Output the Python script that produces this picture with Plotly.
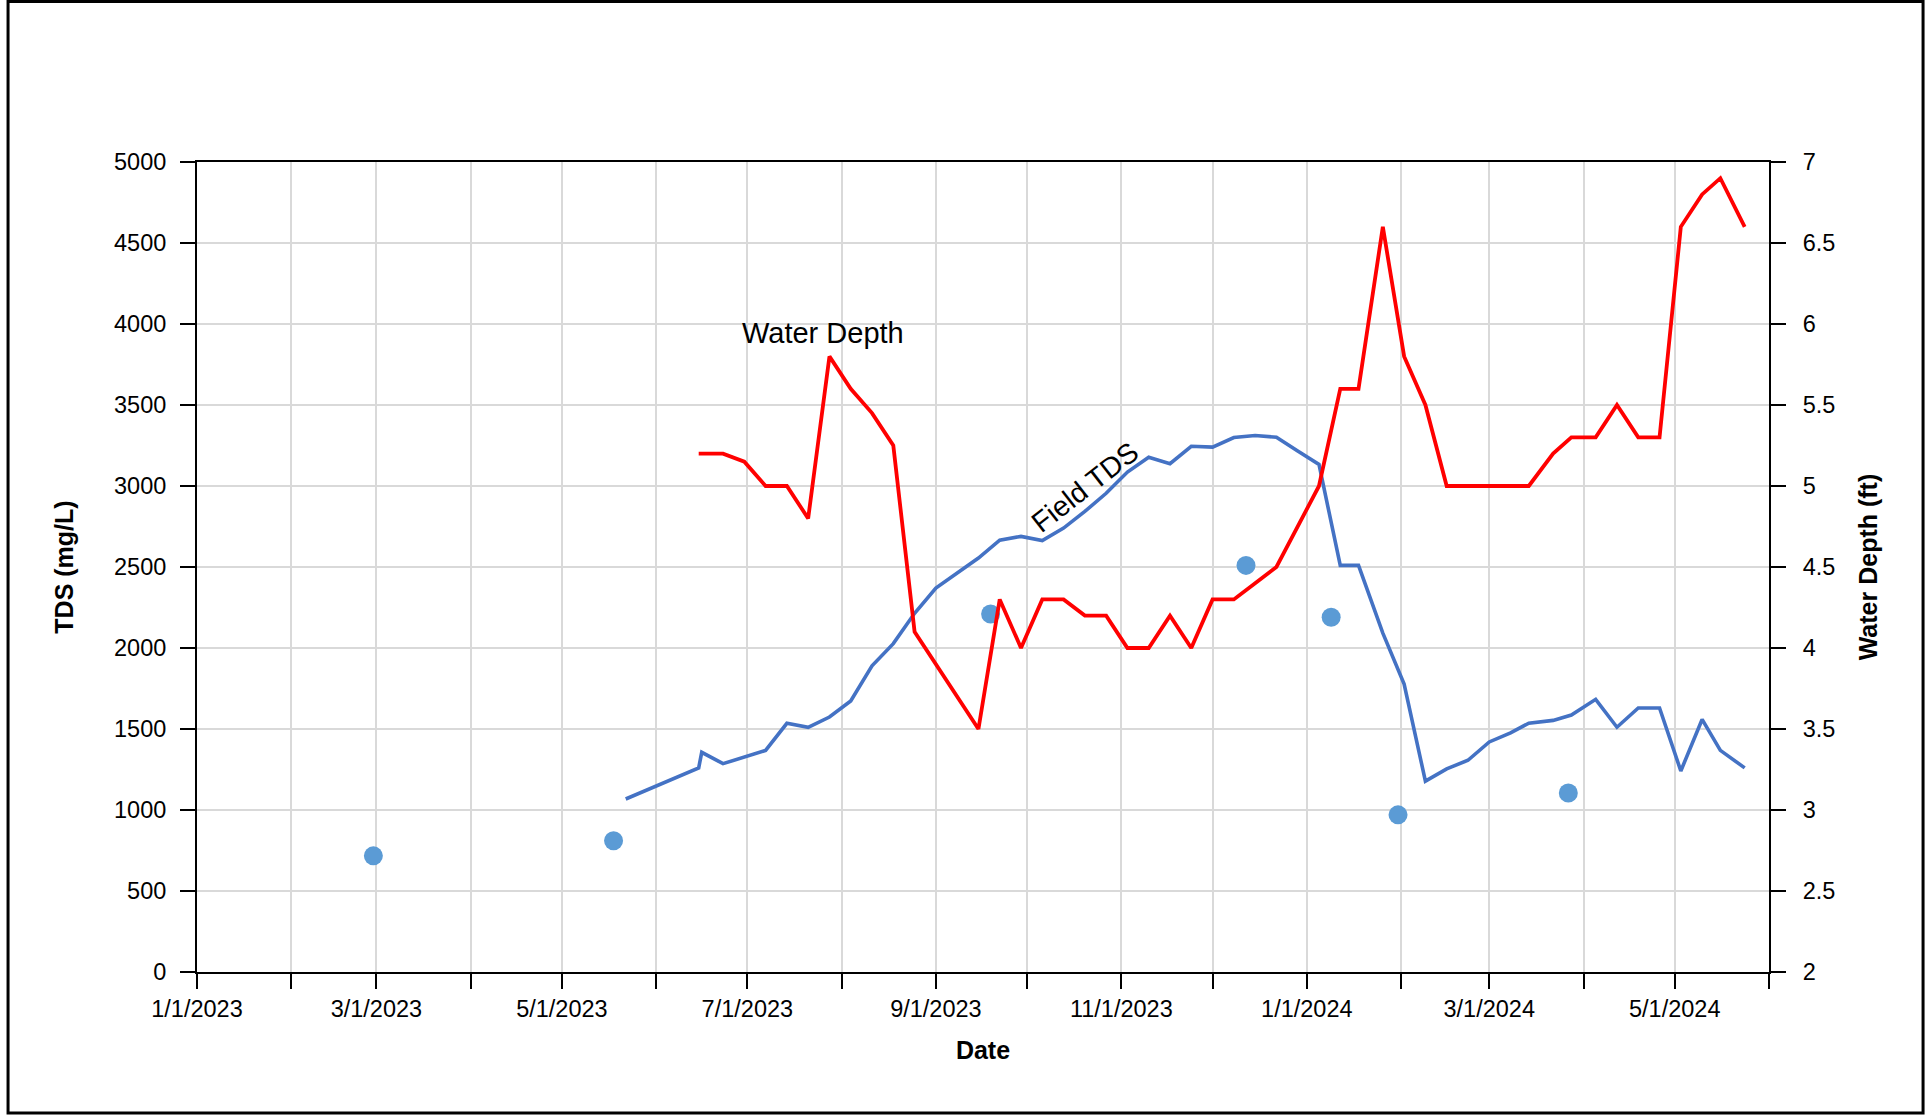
import plotly.graph_objects as go

# ---------------- data ----------------
tds_dates = [
    "2023-05-22", "2023-06-15", "2023-06-16", "2023-06-23", "2023-07-07", "2023-07-14",
    "2023-07-21", "2023-07-28", "2023-08-04", "2023-08-11", "2023-08-18", "2023-08-25",
    "2023-09-01", "2023-09-08", "2023-09-15", "2023-09-22", "2023-09-29", "2023-10-06",
    "2023-10-13", "2023-10-20", "2023-10-27", "2023-11-03", "2023-11-10", "2023-11-17",
    "2023-11-24", "2023-12-01", "2023-12-08", "2023-12-15", "2023-12-22", "2023-12-29",
    "2024-01-05", "2024-01-12", "2024-01-18", "2024-01-26", "2024-02-02", "2024-02-09",
    "2024-02-16", "2024-02-23", "2024-03-01", "2024-03-08", "2024-03-14", "2024-03-22",
    "2024-03-28", "2024-04-05", "2024-04-12", "2024-04-19", "2024-04-26", "2024-05-03",
    "2024-05-10", "2024-05-16", "2024-05-24",
]
tds_values = [
    1068, 1260, 1356, 1286, 1368, 1535, 1510, 1574, 1673, 1890, 2027, 2214,
    2370, 2460, 2555, 2666, 2689, 2663, 2740, 2843, 2955, 3086, 3178, 3138,
    3245, 3240, 3299, 3312, 3301, 3216, 3133, 2510, 2510, 2092, 1777, 1178,
    1254, 1307, 1420, 1476, 1536, 1553, 1586, 1683, 1511, 1630, 1630, 1241,
    1559, 1368, 1260,
]

depth_dates = [
    "2023-06-15", "2023-06-23", "2023-06-30", "2023-07-07", "2023-07-14", "2023-07-21",
    "2023-07-28", "2023-08-04", "2023-08-11", "2023-08-18", "2023-08-25", "2023-09-15",
    "2023-09-22", "2023-09-29", "2023-10-06", "2023-10-13", "2023-10-20", "2023-10-27",
    "2023-11-03", "2023-11-10", "2023-11-17", "2023-11-24", "2023-12-01", "2023-12-08",
    "2023-12-15", "2023-12-22", "2024-01-05", "2024-01-12", "2024-01-18", "2024-01-26",
    "2024-02-02", "2024-02-09", "2024-02-16", "2024-02-23", "2024-03-01", "2024-03-08",
    "2024-03-14", "2024-03-22", "2024-03-28", "2024-04-05", "2024-04-12", "2024-04-19",
    "2024-04-26", "2024-05-03", "2024-05-10", "2024-05-16", "2024-05-24",
]
depth_values = [
    5.2, 5.2, 5.15, 5.0, 5.0, 4.8,
    5.8, 5.6, 5.45, 5.25, 4.1, 3.5,
    4.3, 4.0, 4.3, 4.3, 4.2, 4.2,
    4.0, 4.0, 4.2, 4.0, 4.3, 4.3,
    4.4, 4.5, 5.0, 5.6, 5.6, 6.6,
    5.8, 5.5, 5.0, 5.0, 5.0, 5.0,
    5.0, 5.2, 5.3, 5.3, 5.5, 5.3,
    5.3, 6.6, 6.8, 6.9, 6.6,
]

lab_dates = ["2023-02-28", "2023-05-18", "2023-09-19", "2023-12-12", "2024-01-09", "2024-01-31", "2024-03-27"]
lab_values = [717, 810, 2210, 2510, 2190, 970, 1105]

month_ticks = [
    "2023-01-01", "2023-02-01", "2023-03-01", "2023-04-01", "2023-05-01", "2023-06-01",
    "2023-07-01", "2023-08-01", "2023-09-01", "2023-10-01", "2023-11-01", "2023-12-01",
    "2024-01-01", "2024-02-01", "2024-03-01", "2024-04-01", "2024-05-01", "2024-06-01",
]
month_labels = [
    "1/1/2023", "", "3/1/2023", "", "5/1/2023", "", "7/1/2023", "", "9/1/2023", "",
    "11/1/2023", "", "1/1/2024", "", "3/1/2024", "", "5/1/2024", "",
]

FONT = "Liberation Sans, Arial, sans-serif"

fig = go.Figure()

fig.add_trace(go.Scatter(
    x=tds_dates, y=tds_values, mode="lines", name="Field TDS",
    line=dict(color="#4472C4", width=3.6), yaxis="y",
))
fig.add_trace(go.Scatter(
    x=depth_dates, y=depth_values, mode="lines", name="Water Depth",
    line=dict(color="#FF0000", width=3.8), yaxis="y2",
))
fig.add_trace(go.Scatter(
    x=lab_dates, y=lab_values, mode="markers", name="Lab TDS",
    marker=dict(color="#5B9BD5", size=19, line=dict(width=0)), yaxis="y",
))

axis_common = dict(
    showline=True, linecolor="black", linewidth=2,
    ticks="outside", ticklen=15, tickwidth=2, tickcolor="black",
    tickfont=dict(family=FONT, size=23.5, color="black"),
    showgrid=True, gridcolor="#D9D9D9", gridwidth=1.5,
    zeroline=False,
)

fig.update_layout(
    width=1929, height=1116,
    margin=dict(l=197, r=160, t=162, b=144),
    paper_bgcolor="white", plot_bgcolor="white",
    showlegend=False,
    font=dict(family=FONT, color="black"),
    xaxis=dict(
        **axis_common,
        type="date",
        range=["2023-01-01", "2024-06-01"],
        tickmode="array", tickvals=month_ticks, ticktext=month_labels,
        mirror=True,
        ticklabelstandoff=0,
        title=dict(text="<b>Date</b>", font=dict(family=FONT, size=25, color="black"), standoff=20),
    ),
    yaxis=dict(
        **axis_common,
        range=[0, 5000], tick0=0, dtick=500,
        ticklabelstandoff=9,
        title=dict(text="<b>TDS (mg/L)</b>", font=dict(family=FONT, size=25, color="black"), standoff=33),
    ),
    yaxis2=dict(
        **axis_common,
        overlaying="y", side="right",
        range=[2, 7], tick0=2, dtick=0.5,
        ticklabelstandoff=12,
        title=dict(text="<b>Water Depth (ft)</b>", font=dict(family=FONT, size=25, color="black"), standoff=25),
    ),
)
fig.update_layout(yaxis2_showgrid=False)

fig.add_annotation(
    x="2023-07-26", y=3943, xref="x", yref="y", text="Water Depth",
    showarrow=False, font=dict(family=FONT, size=29, color="black"),
)
fig.add_annotation(
    x="2023-10-20", y=2992, xref="x", yref="y", text="Field TDS",
    showarrow=False, textangle=-38, font=dict(family=FONT, size=28.5, color="black"),
)

fig.add_shape(
    type="rect", xref="paper", yref="paper",
    x0=-0.1202, x1=1.098, y0=-0.1741, y1=1.1981,
    line=dict(color="black", width=3), fillcolor="rgba(0,0,0,0)", layer="above",
)

fig.write_html(
    "out.html",
    config={"displayModeBar": False},
    post_script="document.body.style.margin='0px';",
)
